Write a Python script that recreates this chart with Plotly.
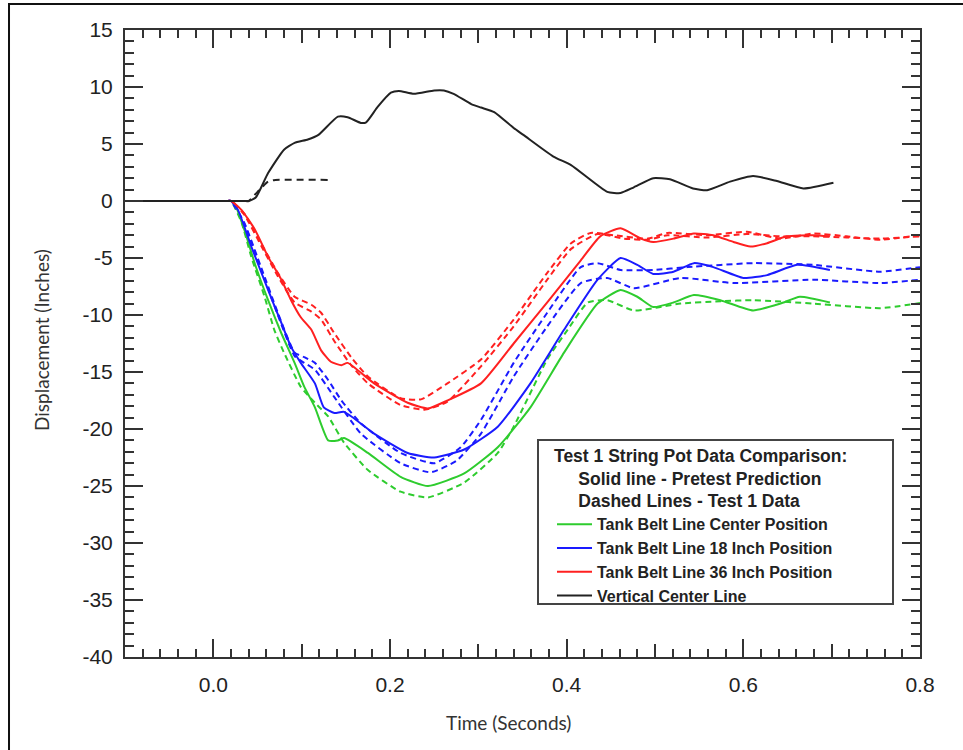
import plotly.graph_objects as go

# ---------------- data (time in s, displacement in inches) ----------------
green_solid_t = [-0.1, 0.0, 0.015, 0.02, 0.024, 0.035, 0.047, 0.062, 0.077, 0.092, 0.103, 0.115, 0.130, 0.141, 0.148, 0.175, 0.212, 0.243, 0.284, 0.322, 0.359, 0.397, 0.435, 0.461, 0.480, 0.498, 0.521, 0.544, 0.574, 0.611, 0.642, 0.664, 0.698]
green_solid_v = [0, 0, 0, 0, -0.2, -2.5, -5.5, -8.7, -11.6, -14.2, -16.3, -18.1, -21.0, -21.0, -20.8, -22.1, -24.2, -25.0, -23.9, -21.6, -18.1, -13.3, -9.0, -7.8, -8.4, -9.3, -8.9, -8.25, -8.7, -9.6, -9.0, -8.4, -8.9]

green_dash_t = [-0.1, 0.0, 0.015, 0.02, 0.032, 0.043, 0.058, 0.069, 0.080, 0.099, 0.115, 0.130, 0.148, 0.175, 0.212, 0.243, 0.284, 0.322, 0.340, 0.378, 0.401, 0.424, 0.446, 0.476, 0.529, 0.574, 0.611, 0.679, 0.755, 0.8]
green_dash_v = [0, 0, 0, 0, -1.9, -4.9, -8.4, -11.3, -13.3, -16.3, -17.7, -18.9, -21.2, -23.6, -25.5, -26.0, -24.7, -22.1, -19.8, -13.9, -11.3, -8.9, -8.7, -9.6, -9.0, -8.8, -8.7, -9.0, -9.4, -8.95]

blue_solid_t = [-0.1, 0.0, 0.015, 0.02, 0.028, 0.043, 0.062, 0.077, 0.088, 0.099, 0.115, 0.125, 0.137, 0.148, 0.182, 0.220, 0.250, 0.284, 0.322, 0.359, 0.397, 0.435, 0.461, 0.480, 0.498, 0.521, 0.544, 0.566, 0.600, 0.627, 0.661, 0.698]
blue_solid_v = [0, 0, 0, 0, -0.8, -4.0, -7.8, -10.7, -12.8, -14.2, -16.0, -18.1, -18.6, -18.5, -20.4, -22.1, -22.5, -21.8, -19.8, -16.0, -11.3, -6.9, -5.0, -5.6, -6.4, -6.2, -5.45, -5.8, -6.75, -6.5, -5.6, -6.05]

blue_dash1_t = [-0.1, 0.0, 0.015, 0.02, 0.035, 0.054, 0.073, 0.092, 0.103, 0.115, 0.130, 0.145, 0.167, 0.212, 0.250, 0.280, 0.303, 0.340, 0.378, 0.416, 0.435, 0.461, 0.498, 0.537, 0.611, 0.679, 0.755, 0.8]
blue_dash1_v = [0, 0, 0, 0, -1.9, -5.8, -9.8, -13.3, -13.7, -14.2, -15.7, -17.5, -19.5, -22.1, -23.0, -21.6, -19.2, -14.2, -9.8, -5.8, -5.45, -6.05, -6.05, -5.8, -5.45, -5.6, -6.2, -5.8]

blue_dash2_t = [-0.1, 0.0, 0.015, 0.02, 0.035, 0.054, 0.073, 0.092, 0.103, 0.115, 0.137, 0.167, 0.212, 0.246, 0.275, 0.303, 0.340, 0.378, 0.416, 0.446, 0.476, 0.529, 0.589, 0.679, 0.755, 0.8]
blue_dash2_v = [0, 0, 0, 0, -2.0, -6.0, -10.0, -13.6, -14.2, -14.8, -17.2, -20.4, -23.0, -23.8, -22.8, -20.4, -15.4, -11.0, -7.2, -6.75, -7.65, -6.75, -7.2, -6.9, -7.2, -6.9]

red_solid_t = [-0.1, 0.0, 0.015, 0.02, 0.032, 0.047, 0.062, 0.077, 0.088, 0.099, 0.111, 0.122, 0.133, 0.145, 0.152, 0.182, 0.220, 0.243, 0.265, 0.303, 0.340, 0.378, 0.416, 0.438, 0.461, 0.484, 0.498, 0.521, 0.544, 0.566, 0.589, 0.608, 0.627, 0.649, 0.679, 0.698]
red_solid_v = [0, 0, 0, 0, -0.8, -2.5, -4.9, -6.9, -8.7, -10.2, -11.3, -13.1, -14.1, -14.4, -14.2, -16.0, -17.7, -18.2, -17.5, -16.0, -12.5, -8.9, -5.2, -3.1, -2.4, -3.3, -3.6, -3.3, -2.85, -3.0, -3.6, -4.0, -3.7, -3.1, -3.0, -3.1]

red_dash1_t = [-0.1, 0.0, 0.015, 0.02, 0.035, 0.054, 0.073, 0.092, 0.111, 0.122, 0.137, 0.156, 0.175, 0.212, 0.235, 0.265, 0.303, 0.340, 0.378, 0.405, 0.427, 0.453, 0.492, 0.514, 0.559, 0.604, 0.642, 0.679, 0.717, 0.755, 0.8]
red_dash1_v = [0, 0, 0, 0, -1.1, -3.7, -6.3, -8.4, -9.1, -9.8, -11.6, -13.7, -15.4, -17.3, -17.4, -16.0, -13.9, -10.4, -6.3, -3.7, -2.8, -3.0, -3.3, -2.8, -3.0, -2.7, -3.3, -2.85, -3.1, -3.4, -3.0]

red_dash2_t = [-0.1, 0.0, 0.015, 0.02, 0.035, 0.054, 0.073, 0.092, 0.111, 0.122, 0.137, 0.156, 0.175, 0.212, 0.240, 0.265, 0.303, 0.340, 0.378, 0.405, 0.435, 0.465, 0.492, 0.514, 0.559, 0.604, 0.642, 0.679, 0.717, 0.755, 0.8]
red_dash2_v = [0, 0, 0, 0, -1.2, -3.9, -6.6, -8.9, -9.7, -10.4, -12.3, -14.4, -16.0, -17.9, -18.3, -17.6, -14.5, -11.0, -6.9, -4.2, -2.9, -3.3, -3.4, -3.0, -3.2, -2.9, -3.1, -3.1, -3.2, -3.3, -3.1]

black_solid_t = [-0.1, 0.0, 0.035, 0.04, 0.048, 0.062, 0.080, 0.092, 0.107, 0.119, 0.141, 0.152, 0.167, 0.173, 0.186, 0.201, 0.210, 0.227, 0.250, 0.261, 0.272, 0.292, 0.303, 0.318, 0.340, 0.351, 0.385, 0.405, 0.446, 0.461, 0.476, 0.498, 0.517, 0.543, 0.559, 0.585, 0.611, 0.638, 0.668, 0.702]
black_solid_v = [0, 0, 0, 0, 0.3, 2.45, 4.5, 5.1, 5.4, 5.8, 7.4, 7.35, 6.85, 6.9, 8.25, 9.5, 9.65, 9.4, 9.7, 9.7, 9.4, 8.5, 8.2, 7.8, 6.4, 5.8, 3.9, 3.15, 0.8, 0.7, 1.2, 2.0, 1.9, 1.1, 0.95, 1.7, 2.2, 1.75, 1.1, 1.6]

black_dash_t = [-0.1, 0.0, 0.035, 0.04, 0.05, 0.062, 0.07, 0.13]
black_dash_v = [0, 0, 0, 0, 0.8, 1.7, 1.85, 1.85]

x_tickvals = [0.0, 0.2, 0.4, 0.6, 0.8]
x_ticktext = ["0.0", "0.2", "0.4", "0.6", "0.8"]
x_midticks = [-0.1, 0.1, 0.3, 0.5, 0.7]
y_tickvals = [15, 10, 5, 0, -5, -10, -15, -20, -25, -30, -35, -40]
y_ticktext = ["15", "10", "5", "0", "-5", "-10", "-15", "-20", "-25", "-30", "-35", "-40"]

legend_title = ("Test 1 String Pot Data Comparison:<br>"
                "\u00a0\u00a0\u00a0\u00a0\u00a0Solid line - Pretest Prediction<br>"
                "\u00a0\u00a0\u00a0\u00a0\u00a0Dashed Lines - Test 1 Data")
names = ["Tank Belt Line Center Position", "Tank Belt Line 18 Inch Position",
         "Tank Belt Line 36 Inch Position", "Vertical Center Line"]

GREEN = "#2ecc2e"
BLUE = "#1a1aff"
RED = "#ff2020"
BLACK = "#222222"
AX = "#333333"
FONT = "Liberation Sans, Arial, sans-serif"

fig = go.Figure()

def add(t, v, color, dash=None, name=None, legend=False):
    fig.add_trace(go.Scatter(
        x=t, y=v, mode="lines", name=name, showlegend=legend,
        line=dict(color=color, width=2, dash=dash, shape="spline", smoothing=0.5),
        hoverinfo="skip"))

DASH = "6px,4px"
add(green_dash_t, green_dash_v, GREEN, DASH)
add(blue_dash1_t, blue_dash1_v, BLUE, DASH)
add(blue_dash2_t, blue_dash2_v, BLUE, DASH)
add(red_dash1_t, red_dash1_v, RED, DASH)
add(red_dash2_t, red_dash2_v, RED, DASH)
add(black_dash_t, black_dash_v, BLACK, "7px,5px")
add(green_solid_t, green_solid_v, GREEN, None, names[0], True)
add(blue_solid_t, blue_solid_v, BLUE, None, names[1], True)
add(red_solid_t, red_solid_v, RED, None, names[2], True)
add(black_solid_t, black_solid_v, BLACK, None, names[3], True)

# invisible trace to host the mid-level tick axis
fig.add_trace(go.Scatter(x=[None], y=[None], xaxis="x2", yaxis="y",
                         showlegend=False, hoverinfo="skip"))

fig.update_layout(
    width=963, height=750,
    margin=dict(l=125, r=43, t=30, b=93),
    paper_bgcolor="white", plot_bgcolor="white",
    font=dict(family=FONT, color="#222222"),
    xaxis=dict(
        range=[-0.1, 0.8], showgrid=False, zeroline=False,
        showline=True, linewidth=2, linecolor=AX, mirror="ticks",
        ticks="inside", ticklen=18, tickwidth=1.5, tickcolor=AX,
        tickvals=x_tickvals, ticktext=x_ticktext,
        tickfont=dict(size=21, color="#222222"), ticklabelstandoff=8,
        minor=dict(ticks="inside", tick0=0, dtick=0.02, ticklen=8, tickwidth=1.5, tickcolor=AX),
    ),
    xaxis2=dict(
        range=[-0.1, 0.8], overlaying="x", anchor="y", side="bottom",
        showgrid=False, zeroline=False, showline=False, mirror="ticks",
        ticks="inside", ticklen=13, tickwidth=1.5, tickcolor=AX,
        tickvals=x_midticks, showticklabels=False,
    ),
    yaxis=dict(
        range=[-40, 15], showgrid=False, zeroline=False,
        showline=True, linewidth=2, linecolor=AX, mirror="ticks",
        ticks="inside", ticklen=18, tickwidth=1.5, tickcolor=AX,
        tickvals=y_tickvals, ticktext=y_ticktext,
        tickfont=dict(size=21, color="#222222"), ticklabelstandoff=6,
        minor=dict(ticks="inside", tick0=0, dtick=1, ticklen=9, tickwidth=1.5, tickcolor=AX),
    ),
    legend=dict(
        x=(552 - 125) / 795, y=(657 - 439) / 627, xanchor="left", yanchor="top",
        bgcolor="rgba(0,0,0,0)", borderwidth=0,
        font=dict(family=FONT, size=16, color="#222222", weight="bold"),
        title=dict(text=legend_title, side="top",
                   font=dict(family=FONT, size=17.5, color="#222222", weight="bold")),
        itemwidth=35, tracegroupgap=0,
    ),
    annotations=[
        dict(text="Time (Seconds)", xref="paper", yref="paper", x=0.482, y=-0.1037,
             showarrow=False, xanchor="center", yanchor="middle",
             font=dict(family="Lato, Open Sans, sans-serif", size=19, color="#333333")),
        dict(text="Displacement (Inches)", xref="paper", yref="paper", x=-0.1044, y=0.5056,
             showarrow=False, xanchor="center", yanchor="middle", textangle=-90,
             font=dict(family="Lato, Open Sans, sans-serif", size=19, color="#333333")),
    ],
    shapes=[
        # outer frame of the figure
        dict(type="rect", xref="paper", yref="paper", x0=-0.1459, y0=-0.3, x1=1.2, y1=1.0415,
             line=dict(color="#111111", width=2), fillcolor="rgba(0,0,0,0)", layer="below"),
        # legend frame
        dict(type="rect", xref="paper", yref="paper",
             x0=(538 - 125) / 795, x1=(893 - 125) / 795,
             y0=(657 - 604) / 627, y1=(657 - 440) / 627,
             line=dict(color="#444444", width=2), fillcolor="white", layer="below"),
    ],
)

fig.write_html("out.html")
